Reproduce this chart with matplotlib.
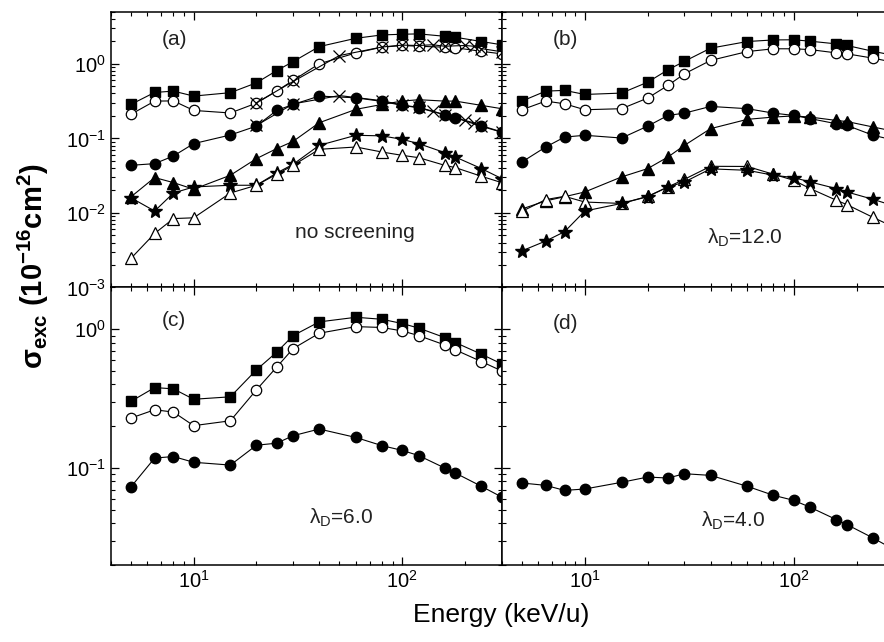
import matplotlib
matplotlib.use("Agg")
import matplotlib.pyplot as plt
from matplotlib.ticker import LogLocator, NullFormatter, FuncFormatter
import numpy as np

plt.rcParams['font.family'] = ['Liberation Sans', 'DejaVu Sans']
plt.rcParams['mathtext.fontset'] = 'custom'
plt.rcParams['mathtext.rm'] = 'Liberation Sans'
plt.rcParams['mathtext.it'] = 'Liberation Sans:italic'
plt.rcParams['mathtext.bf'] = 'Liberation Sans:bold'
plt.rcParams['mathtext.default'] = 'regular'

# energy grid (keV/u)
energy = [5, 6.5, 8, 10, 15, 20, 25, 30, 40, 60, 80, 100, 120, 160, 180, 240, 300]
energy_x = [20, 30, 50, 80, 100, 120, 140, 160, 200, 220, 240, 300]

# (a) no screening
a_sq = [0.285, 0.413, 0.43, 0.369, 0.41, 0.556, 0.81, 1.07, 1.70, 2.2, 2.44, 2.49, 2.52, 2.34, 2.27, 1.99, 1.80]
a_oc = [0.21, 0.316, 0.318, 0.237, 0.219, 0.297, 0.43, 0.60, 1.0, 1.40, 1.67, 1.76, 1.72, 1.67, 1.64, 1.47, 1.36]
a_fc = [0.0435, 0.0458, 0.058, 0.085, 0.111, 0.146, 0.237, 0.285, 0.369, 0.35, 0.313, 0.277, 0.257, 0.207, 0.189, 0.145, 0.121]
a_ft = [0.0164, 0.0298, 0.0255, 0.0208, 0.032, 0.0535, 0.0728, 0.0912, 0.162, 0.245, 0.285, 0.316, 0.33, 0.316, 0.316, 0.277, 0.25]
a_st = [0.016, 0.0106, 0.0185, 0.0223, 0.0235, 0.0235, 0.0343, 0.0449, 0.0806, 0.11, 0.108, 0.097, 0.085, 0.0644, 0.0562, 0.0393, 0.0289]
a_ot = [0.00245, 0.0053, 0.0084, 0.0086, 0.0185, 0.0235, 0.033, 0.0435, 0.0713, 0.0766, 0.0656, 0.0592, 0.0551, 0.0435, 0.0405, 0.031, 0.0255]
a_x1 = [0.30, 0.58, 1.29, 1.68, 1.78, 1.76, 1.80, 1.72, 1.76, 1.72, 1.60, 1.45]
a_x2 = [0.149, 0.29, 0.375, 0.32, 0.28, 0.26, 0.232, 0.207, 0.174, 0.162, 0.148, 0.122]

# (b) lambda_D = 12.0
b_sq = [0.316, 0.43, 0.44, 0.388, 0.405, 0.567, 0.83, 1.08, 1.62, 1.99, 2.09, 2.1, 2.01, 1.85, 1.76, 1.47, 1.30]
b_oc = [0.242, 0.316, 0.291, 0.242, 0.25, 0.347, 0.513, 0.734, 1.11, 1.46, 1.59, 1.59, 1.55, 1.40, 1.36, 1.19, 1.05]
b_fc = [0.0482, 0.0766, 0.104, 0.11, 0.101, 0.146, 0.203, 0.218, 0.268, 0.25, 0.218, 0.203, 0.184, 0.157, 0.149, 0.11, 0.095]
b_ft = [0.0113, 0.0145, 0.0165, 0.0191, 0.0304, 0.0393, 0.0562, 0.0806, 0.135, 0.18, 0.193, 0.2, 0.193, 0.174, 0.168, 0.142, 0.125]
b_st = [0.0031, 0.0042, 0.0056, 0.0106, 0.0134, 0.0165, 0.0223, 0.026, 0.039, 0.0373, 0.032, 0.0298, 0.026, 0.0212, 0.0191, 0.0152, 0.0125]
b_ot = [0.0105, 0.0151, 0.0167, 0.014, 0.0134, 0.0167, 0.0223, 0.0283, 0.0422, 0.042, 0.033, 0.0274, 0.0212, 0.0148, 0.0129, 0.0087, 0.0065]

# (c) lambda_D = 6.0
c_sq = [0.302, 0.38, 0.372, 0.313, 0.326, 0.51, 0.683, 0.9, 1.13, 1.22, 1.18, 1.10, 1.02, 0.871, 0.802, 0.661, 0.563]
c_oc = [0.229, 0.263, 0.253, 0.202, 0.219, 0.366, 0.533, 0.726, 0.936, 1.045, 1.03, 0.973, 0.9, 0.771, 0.71, 0.585, 0.501]
c_fc = [0.073, 0.118, 0.121, 0.11, 0.105, 0.146, 0.151, 0.171, 0.191, 0.166, 0.145, 0.134, 0.123, 0.1, 0.092, 0.0738, 0.0618]

# (d) lambda_D = 4.0
d_fc = [0.078, 0.075, 0.069, 0.0706, 0.0789, 0.0861, 0.0847, 0.091, 0.0885, 0.0738, 0.0636, 0.0585, 0.0521, 0.0425, 0.0391, 0.0313, 0.026]

fig = plt.figure(figsize=(8.84, 6.42), dpi=100)
L, M, R = 0.1252, 0.5675, 1.0106
B, H, T = 0.1199, 0.5522, 0.9818
ax_a = fig.add_axes([L, H, M - L, T - H])
ax_b = fig.add_axes([M, H, R - M, T - H])
ax_c = fig.add_axes([L, B, M - L, H - B])
ax_d = fig.add_axes([M, B, R - M, H - B])

lw = 0.8
filled = dict(color='k', mfc='k', mec='k', lw=lw)
hollow = dict(color='k', mfc='white', mec='k', mew=0.9, lw=lw)


def curve(ax, x, y, m, ms, style):
    ax.plot(x, y, marker=m, ms=ms, **style)


def sup_fmt(v, pos):
    e = int(round(np.log10(v)))
    return r'$10^{%d}$' % e


for ax in (ax_a, ax_b, ax_c, ax_d):
    ax.set_xscale('log')
    ax.set_yscale('log')
    ax.set_xlim(4, 300)
    ax.tick_params(which='both', direction='in', top=True, right=True, labelsize=14.5)
    ax.tick_params(which='major', length=6, width=0.9)
    ax.tick_params(which='minor', length=3, width=0.8)
    ax.xaxis.set_major_locator(LogLocator(base=10, numticks=10))
    ax.xaxis.set_minor_locator(LogLocator(base=10, subs=np.arange(2, 10), numticks=10))
    ax.yaxis.set_minor_locator(LogLocator(base=10, subs=np.arange(2, 10), numticks=10))
    ax.xaxis.set_major_formatter(FuncFormatter(sup_fmt))
    ax.yaxis.set_major_formatter(FuncFormatter(sup_fmt))
    ax.xaxis.set_minor_formatter(NullFormatter())
    ax.yaxis.set_minor_formatter(NullFormatter())
    for s in ax.spines.values():
        s.set_linewidth(1.1)

for ax in (ax_a, ax_b):
    ax.set_ylim(1e-3, 5)
    ax.tick_params(labelbottom=False)
for ax in (ax_c, ax_d):
    ax.set_ylim(0.02, 2)
for ax in (ax_b, ax_d):
    ax.tick_params(labelleft=False)

# panel (a)
curve(ax_a, energy, a_sq, 's', 6.5, filled)
curve(ax_a, energy, a_oc, 'o', 7.5, hollow)
curve(ax_a, energy, a_fc, 'o', 7.5, filled)
curve(ax_a, energy, a_ft, '^', 8, filled)
curve(ax_a, energy, a_st, '*', 10, filled)
curve(ax_a, energy, a_ot, '^', 8, hollow)
ax_a.plot(energy_x, a_x1, marker='x', ms=8, mew=0.9, color='k', lw=lw)
ax_a.plot(energy_x, a_x2, marker='x', ms=8, mew=0.9, color='k', lw=lw)

# panel (b)
curve(ax_b, energy, b_sq, 's', 6.5, filled)
curve(ax_b, energy, b_oc, 'o', 7.5, hollow)
curve(ax_b, energy, b_fc, 'o', 7.5, filled)
curve(ax_b, energy, b_ft, '^', 8, filled)
curve(ax_b, energy, b_ot, '^', 8, hollow)
curve(ax_b, energy, b_st, '*', 10, filled)

# panel (c)
curve(ax_c, energy, c_sq, 's', 6.5, filled)
curve(ax_c, energy, c_oc, 'o', 7.5, hollow)
curve(ax_c, energy, c_fc, 'o', 7.5, filled)

# panel (d)
curve(ax_d, energy, d_fc, 'o', 7.5, filled)

txt = dict(fontsize=15, color='#222222')
ax_a.text(0.13, 0.88, '(a)', transform=ax_a.transAxes, **txt)
ax_b.text(0.13, 0.88, '(b)', transform=ax_b.transAxes, **txt)
ax_c.text(0.13, 0.86, '(c)', transform=ax_c.transAxes, **txt)
ax_d.text(0.13, 0.85, '(d)', transform=ax_d.transAxes, **txt)
ax_a.text(0.625, 0.20, 'no screening', transform=ax_a.transAxes, fontsize=15, ha='center', va='center', color='#222222')
ax_b.text(0.62, 0.18, r'λ$_{D}$=12.0', transform=ax_b.transAxes, fontsize=15, ha='center', va='center', color='#222222')
ax_c.text(0.59, 0.17, r'λ$_{D}$=6.0', transform=ax_c.transAxes, fontsize=15, ha='center', va='center', color='#222222')
ax_d.text(0.59, 0.16, r'λ$_{D}$=4.0', transform=ax_d.transAxes, fontsize=15, ha='center', va='center', color='#222222')

fig.text(0.567, 0.042, 'Energy (keV/u)', ha='center', va='center', fontsize=19)
fig.text(0.038, 0.585, r'σ$_{exc}$ (10$^{-16}$cm$^{2}$)', rotation=90, ha='center', va='center',
         fontsize=21, fontweight='bold')

fig.savefig('out.png', dpi=100)
